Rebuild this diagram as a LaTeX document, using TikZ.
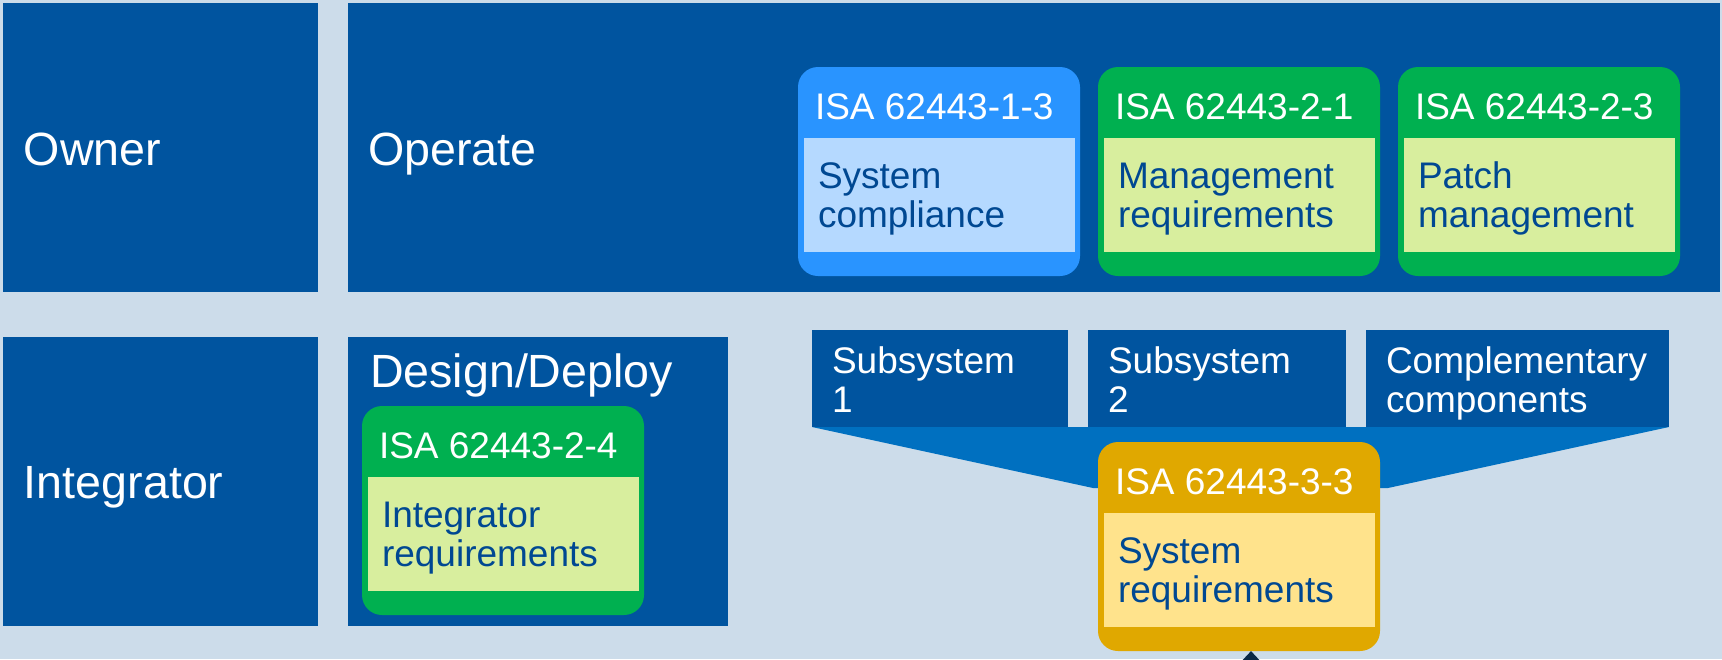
\documentclass[tikz,border=0pt]{standalone}
\usepackage{fontspec}
\setmainfont{Liberation Sans}
\usetikzlibrary{arrows.meta,calc}
\definecolor{mybg}{RGB}{204,220,234}
\definecolor{mylane}{RGB}{0,84,159}
\definecolor{myfunnel}{RGB}{0,112,192}
\definecolor{myblue}{RGB}{41,148,255}
\definecolor{mybluelight}{RGB}{181,217,255}
\definecolor{mygreen}{RGB}{0,176,80}
\definecolor{mygreenlight}{RGB}{216,238,158}
\definecolor{mygold}{RGB}{224,168,0}
\definecolor{mygoldlight}{RGB}{255,227,140}
\definecolor{mybody}{RGB}{0,72,146}
\definecolor{mynavy}{RGB}{10,40,70}

\begin{document}
\begin{tikzpicture}[x=0.5pt, y=-0.5pt,
  every node/.style={inner sep=0pt, outer sep=0pt},
  lane/.style={fill=mylane, anchor=north west, minimum height=144.5pt},
  lanelabel/.style={text=white, anchor=base west, font=\fontsize{23.3}{26}\selectfont},
  subbox/.style={fill=mylane, anchor=north west, minimum height=48.5pt},
  sublabel/.style={text=white, anchor=base west, align=left, font=\fontsize{18.5}{19.5}\selectfont},
  isabox/.style={anchor=north west, rounded corners=10pt, minimum width=141pt, minimum height=104.5pt},
  isatitle/.style={text=white, anchor=base west, font=\fontsize{18.5}{19.5}\selectfont},
  isabody/.style={text=mybody, anchor=base west, align=left, font=\fontsize{18.5}{19.5}\selectfont}]
  % --- canvas ---
  \fill[mybg] (0,0) rectangle (1722,659);
  \useasboundingbox (0,0) rectangle (1722,659);
  % --- role lanes ---
  \node[lane, minimum width=157.5pt] (owner) at (3,3) {};
  \node[lane, minimum width=686pt] (operate) at (348,3) {};
  \node[lane, minimum width=157.5pt] (integrator) at (3,337) {};
  \node[lane, minimum width=190pt] (design) at (348,337) {};
  \node[lanelabel] (owner-l) at ([shift={(21,162)}]owner.north west) {Owner};
  \node[lanelabel] (operate-l) at ([shift={(20,162)}]operate.north west) {Operate};
  \node[lanelabel] (integrator-l) at ([shift={(21,161)}]integrator.north west) {Integrator};
  \node[lanelabel] (design-l) at ([shift={(22,50)}]design.north west) {Design/Deploy};
  % --- subsystems (base = last line) ---
  \node[subbox, minimum width=128pt] (sub1) at (812,330) {};
  \node[subbox, minimum width=129pt] (sub2) at (1088,330) {};
  \node[subbox, minimum width=151.5pt] (comp) at (1366,330) {};
  \node[sublabel] (sub1-l) at ([shift={(20,82)}]sub1.north west) {Subsystem\\1};
  \node[sublabel] (sub2-l) at ([shift={(20,82)}]sub2.north west) {Subsystem\\2};
  \node[sublabel] (comp-l) at ([shift={(20,82)}]comp.north west) {Complementary\\components};
  % --- funnel into 3-3 ---
  \fill[myfunnel] (sub1.south west) -- (comp.south east) -- (1388,488) -- (1093,488) -- cycle;
  % --- ISA boxes ---
  \foreach \nm/\bx/\by/\oc/\ic/\ttl/\bdy in {
      isa13/798/67/myblue/mybluelight/{ISA 62443-1-3}/{System\\compliance},
      isa21/1098/67/mygreen/mygreenlight/{ISA 62443-2-1}/{Management\\requirements},
      isa23/1398/67/mygreen/mygreenlight/{ISA 62443-2-3}/{Patch\\management},
      isa24/362/406/mygreen/mygreenlight/{ISA 62443-2-4}/{Integrator\\requirements},
      isa33/1098/442/mygold/mygoldlight/{ISA 62443-3-3}/{System\\requirements}}{
    \node[isabox, fill=\oc] (\nm) at (\bx,\by) {};
    \fill[\ic] ([shift={(6,71)}]\nm.north west) rectangle ([shift={(-5,-24)}]\nm.south east);
    \node[isatitle] (\nm-t) at ([shift={(17,52)}]\nm.north west) {\ttl};
    \node[isabody] (\nm-b) at ([shift={(20,160)}]\nm.north west) {\bdy};
  }
  % --- feed arrow (cut by the page edge) ---
  \coordinate (feed) at (1251,720);
  \draw[mynavy, line width=3pt, -{Triangle[width=18pt,length=10pt]}] (feed) -- (feed |- isa33.south);
\end{tikzpicture}
\end{document}
